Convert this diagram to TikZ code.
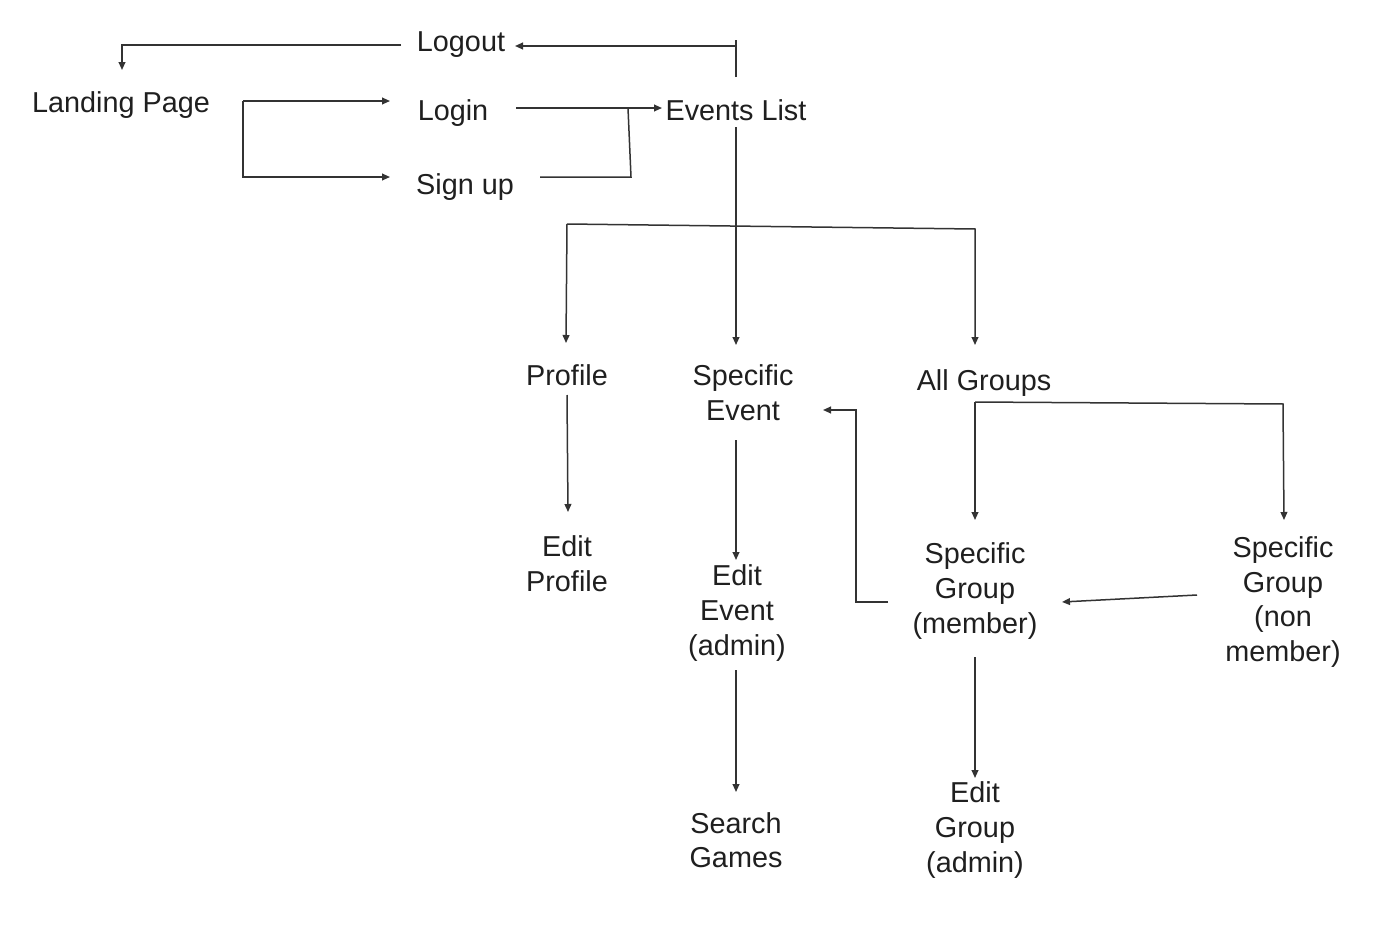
\documentclass[tikz,border=0pt]{standalone}
\usepackage{fontspec}
\setmainfont{Liberation Sans}
\usetikzlibrary{arrows.meta,calc}
\begin{document}
\begin{tikzpicture}[x=0.5pt,y=-0.5pt,
  lbl/.style={font=\fontsize{14.4}{17.3}\selectfont, align=center, inner sep=0pt, text=black!88},
  ln/.style={draw=black!80, line width=0.75pt},
  arr/.style={ln, -{Triangle[length=4pt,width=3.4pt]}}]
\useasboundingbox[fill=white] (0,0) rectangle (1378,926);
% nodes
\node[lbl] (lo) at (461,45) {Logout};
\node[lbl] (lp) at (121,105) {Landing Page};
\node[lbl] (li) at (453,113) {Login};
\node[lbl] (su) at (465,187) {Sign up};
\node[lbl] (ev) at (736,110) {Events List};
\node[lbl] (pr) at (567,375) {Profile};
\node[lbl] (se) at (743,393) {Specific\\Event};
\node[lbl] (ag) at (984,383) {All Groups};
\node[lbl] (ep) at (567,564) {Edit\\Profile};
\node[lbl] (ee) at (737,613) {Edit\\Event\\(admin)};
\node[lbl] (sg) at (736,840) {Search\\Games};
\node[lbl] (gm) at (975,591) {Specific\\Group\\(member)};
\node[lbl] (gn) at (1283,602) {Specific\\Group\\(non\\member)};
\node[lbl] (eg) at (975,830) {Edit\\Group\\(admin)};
% junction coordinates
\coordinate (jtop) at ($(ev)+(0,-64)$);
\coordinate (jlp) at ($(lp)+(122,-4)$);
\coordinate (jsu) at ($(su)+(166,-10)$);
\coordinate (jev) at ($(ev)+(-108,-2)$);
\coordinate (jpr) at ($(pr)+(0,-151)$);
\coordinate (jag) at ($(ag)+(-9,-154)$);
\coordinate (jgr) at ($(ag)+(-9,19)$);
\coordinate (jgn) at ($(gn)+(0,-198)$);
% connectors
\draw[ln] ($(ev)+(0,-33)$) -- ($(ev)+(0,-70)$);
\draw[arr] (jtop) -- ($(lo)+(54,1)$);
\draw[arr] ($(lo)+(-60,0)$) -| ($(lp)+(1,-35)$);
\draw[arr] (jlp) -- ($(li)+(-63,-12)$);
\draw[arr] (jlp) |- ($(su)+(-75,-10)$);
\draw[arr] ($(li)+(63,-5)$) -- ($(ev)+(-74,-2)$);
\draw[ln] ($(su)+(75,-10)$) -- (jsu) -- (jev);
\draw[arr] ($(ev)+(0,17)$) -- ($(se)+(-7,-48)$);
\draw[arr] (jpr) -- (jag) -- ($(ag)+(-9,-38)$);
\draw[arr] (jpr) -- ($(pr)+(-1,-32)$);
\draw[arr] ($(pr)+(0,20)$) -- ($(ep)+(1,-52)$);
\draw[arr] ($(se)+(-7,47)$) -- ($(ee)+(-1,-53)$);
\draw[arr] ($(ee)+(-1,57)$) -- ($(sg)+(0,-48)$);
\draw[arr] (jgr) -- ($(gm)+(0,-71)$);
\draw[arr] (jgr) -- (jgn) -- ($(gn)+(1,-82)$);
\draw[arr] ($(gm)+(-87,11)$) -- ($(gm)+(-119,11)$) |- ($(se)+(80,17)$);
\draw[arr] ($(gn)+(-86,-7)$) -- ($(gm)+(87,11)$);
\draw[arr] ($(gm)+(0,66)$) -- ($(eg)+(0,-52)$);
\end{tikzpicture}
\end{document}
